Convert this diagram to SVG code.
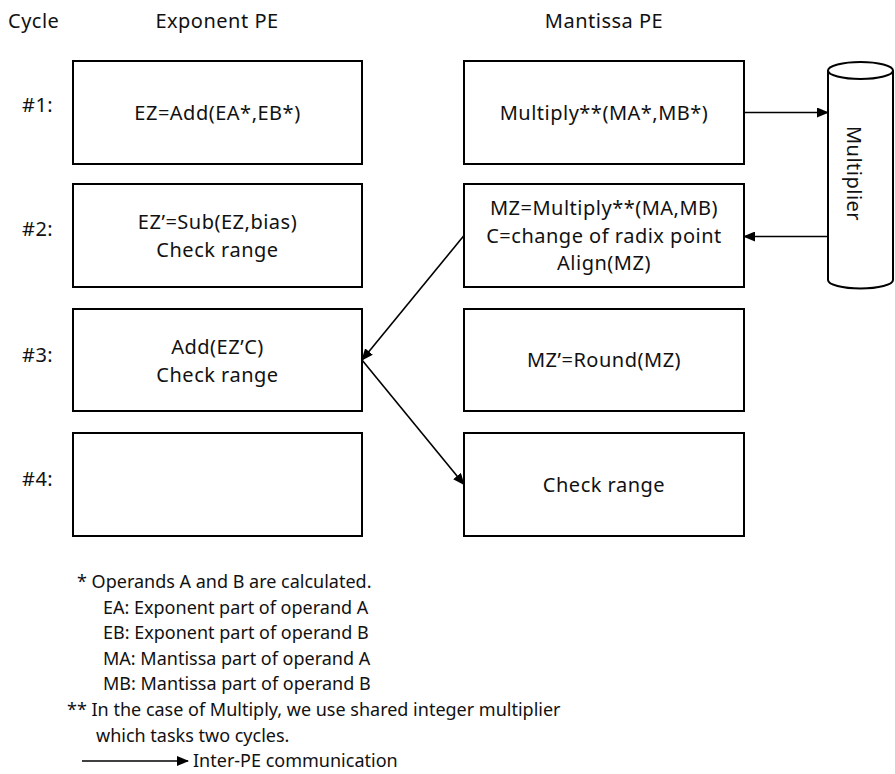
<svg xmlns="http://www.w3.org/2000/svg" width="895" height="774" viewBox="0 0 895 774">
  <defs>
    <marker id="arrow" markerWidth="12" markerHeight="10" refX="11" refY="5" orient="auto" markerUnits="userSpaceOnUse">
      <path d="M0,0 L12,5 L0,10 Z" fill="#000"/>
    </marker>
    <style>
      text { font-family: "Noto Sans", "Open Sans", sans-serif; font-size: 20px; letter-spacing: 0.5px; fill: #111; }
      .c { text-anchor: middle; }
      .note { font-size: 18px; letter-spacing: 0; }
      .box { fill: #fff; stroke: #000; stroke-width: 2; }
      .link { fill: none; stroke: #000; stroke-width: 1.6; marker-end: url(#arrow); }
    </style>
  </defs>
  <rect width="895" height="774" fill="#fff"/>

  <!-- column headers -->
  <g id="headers">
    <text x="8" y="28">Cycle</text>
    <text class="c" x="217" y="28">Exponent PE</text>
    <text class="c" x="604" y="28">Mantissa PE</text>
  </g>

  <!-- cycle labels -->
  <g id="cycles">
    <text x="22" y="112">#1:</text>
    <text x="22" y="236">#2:</text>
    <text x="22" y="362">#3:</text>
    <text x="22" y="486">#4:</text>
  </g>

  <!-- exponent PE stages -->
  <g id="exp1">
    <rect class="box" x="73" y="61" width="289" height="103"/>
    <text class="c" x="217.5" y="119.5">EZ=Add(EA*,EB*)</text>
  </g>
  <g id="exp2">
    <rect class="box" x="73" y="184" width="289" height="103"/>
    <text class="c" x="217.5" y="229">EZ’=Sub(EZ,bias)</text>
    <text class="c" x="217.5" y="256.5">Check range</text>
  </g>
  <g id="exp3">
    <rect class="box" x="73" y="309" width="289" height="102"/>
    <text class="c" x="217.5" y="354">Add(EZ’C)</text>
    <text class="c" x="217.5" y="381.5">Check range</text>
  </g>
  <g id="exp4">
    <rect class="box" x="73" y="433" width="289" height="103"/>
  </g>

  <!-- mantissa PE stages -->
  <g id="man1">
    <rect class="box" x="464" y="61" width="280" height="103"/>
    <text class="c" x="604" y="119.5">Multiply**(MA*,MB*)</text>
  </g>
  <g id="man2">
    <rect class="box" x="464" y="184" width="280" height="103"/>
    <text class="c" x="604" y="215">MZ=Multiply**(MA,MB)</text>
    <text class="c" x="604" y="242.5">C=change of radix point</text>
    <text class="c" x="604" y="270">Align(MZ)</text>
  </g>
  <g id="man3">
    <rect class="box" x="464" y="309" width="280" height="102"/>
    <text class="c" x="604" y="367">MZ’=Round(MZ)</text>
  </g>
  <g id="man4">
    <rect class="box" x="464" y="433" width="280" height="103"/>
    <text class="c" x="604" y="491.5">Check range</text>
  </g>

  <!-- shared multiplier -->
  <g id="multiplier">
    <path class="box" d="M828,70.5 L828,280 A32.5,8.5 0 0,0 893,280 L893,70.5"/>
    <ellipse class="box" cx="860.5" cy="70.5" rx="32.5" ry="8.5"/>
    <text class="c" transform="translate(854,173.5) rotate(90)" y="7">Multiplier</text>
  </g>

  <!-- inter-PE connectors -->
  <g id="connectors">
    <line class="link" x1="744" y1="112.5" x2="828" y2="112.5"/>
    <line class="link" x1="828" y1="236.5" x2="744" y2="236.5"/>
    <line class="link" x1="464" y1="235.5" x2="362" y2="360"/>
    <line class="link" x1="362" y1="360" x2="464" y2="484.5"/>
  </g>

  <!-- notes -->
  <g id="notes">
    <text class="note" x="77" y="588">* Operands A and B are calculated.</text>
    <text class="note" x="103" y="614">EA: Exponent part of operand A</text>
    <text class="note" x="103" y="639">EB: Exponent part of operand B</text>
    <text class="note" x="103" y="665">MA: Mantissa part of operand A</text>
    <text class="note" x="103" y="690">MB: Mantissa part of operand B</text>
    <text class="note" x="67" y="716">** In the case of Multiply, we use shared integer multiplier</text>
    <text class="note" x="96" y="742">which tasks two cycles.</text>
    <line class="link" x1="82" y1="761" x2="188" y2="761"/>
    <text class="note" x="193" y="767">Inter-PE communication</text>
  </g>
</svg>
